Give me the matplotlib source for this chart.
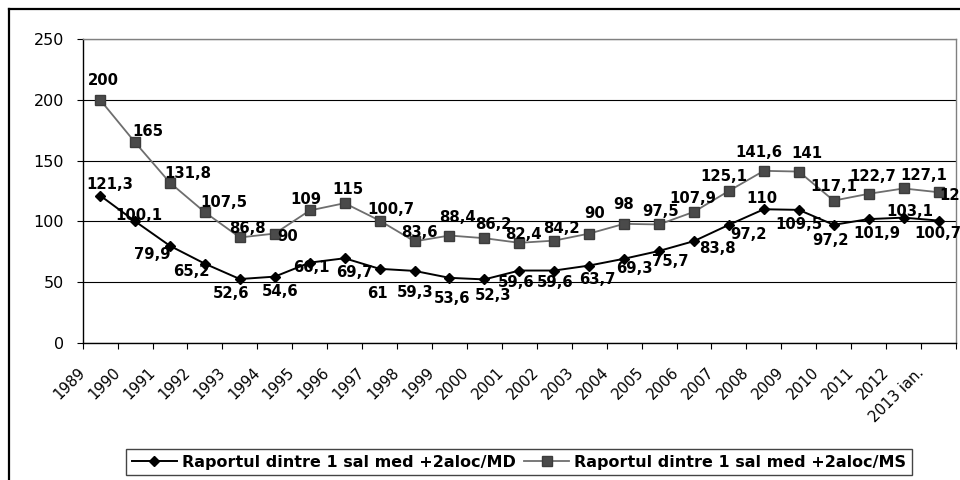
import matplotlib
matplotlib.use('Agg')
import matplotlib.pyplot as plt
from matplotlib.lines import Line2D

years = ['1989', '1990', '1991', '1992', '1993', '1994', '1995', '1996', '1997',
         '1998', '1999', '2000', '2001', '2002', '2003', '2004', '2005', '2006',
         '2007', '2008', '2009', '2010', '2011', '2012', '2013 ian.']

raport_md = [121.3, 100.1, 79.9, 65.2, 52.6, 54.6, 66.1, 69.7, 61, 59.3, 53.6,
             52.3, 59.6, 59.6, 63.7, 69.3, 75.7, 83.8, 97.2, 110, 109.5, 97.2,
             101.9, 103.1, 100.7]

raport_ms = [200, 165, 131.8, 107.5, 86.8, 90, 109, 115, 100.7, 83.6, 88.4,
             86.2, 82.4, 84.2, 90, 98, 97.5, 107.9, 125.1, 141.6, 141, 117.1,
             122.7, 127.1, 124]

label_md = 'Raportul dintre 1 sal med +2aloc/MD'
label_ms = 'Raportul dintre 1 sal med +2aloc/MS'

# where each data label sits relative to its point (pixels, y down)
md_label_shift = [(10, -13), (4, -7), (-17.5, 7), (-14, 6), (-9, 13), (5, 13.5),
                  (2, 3), (9.5, 12.5), (-2, 23.5), (1, 20), (2.5, 19), (9, 14.6),
                  (-3.5, 10), (1, 10), (8, 12), (10.7, 8.6), (11.7, 9), (23.5, 5.6),
                  (19.7, 8.5), (-1.5, -12.5), (0, 13.5), (-3, 14), (8, 12.6),
                  (6, -7.6), (-1, 11)]
ms_label_shift = [(3, -21), (13, -12), (17.5, -10.5), (18.5, -11.6), (8, -10),
                  (13, 1.5), (-4, -12.5), (3.7, -15.5), (11, -13), (4.7, -10),
                  (8, -20), (9, -15), (4, -10), (7.5, -14), (5, -22), (-0.6, -20.5),
                  (1.5, -14.4), (-1, -15), (-5, -16), (-4.6, -20), (8.3, -20),
                  (0, -16), (3.7, -19), (20.5, -14), (16, 2)]


def fmt(v):
    """Romanian style number: comma as decimal sign"""
    return f"{v:g}".replace('.', ',')


fig = plt.figure(figsize=(9.6, 4.8), dpi=100)
ax = fig.add_axes([0.0861, 0.2854, 0.9097, 0.6333])

x = list(range(len(years)))

ax.plot(x, raport_md, color='black', linewidth=1.4, marker='D', markersize=4.8,
        markerfacecolor='black', markeredgecolor='black', zorder=4, label=label_md)
ax.plot(x, raport_ms, color='#6e6e6e', linewidth=1.3, marker='s', markersize=6.6,
        markerfacecolor='#4a4a4a', markeredgecolor='#3c3c3c', zorder=3, label=label_ms)

# data labels
for xi, v, (dx, dy) in zip(x, raport_md, md_label_shift):
    ax.annotate(fmt(v), (xi, v), xytext=(dx, -dy - 1.5), textcoords='offset pixels',
                ha='center', va='center', fontsize=10.7, fontweight='bold', zorder=6)
for xi, v, (dx, dy) in zip(x, raport_ms, ms_label_shift):
    ax.annotate(fmt(v), (xi, v), xytext=(dx, -dy - 1.5), textcoords='offset pixels',
                ha='center', va='center', fontsize=10.7, fontweight='bold', zorder=6)

# axes
ax.set_xlim(-0.5, len(years) - 0.5)
ax.set_ylim(0, 250)
ax.set_yticks(range(0, 251, 50))
ax.tick_params(axis='y', labelsize=11.5, length=4.3, width=0.8, pad=9)
ax.yaxis.grid(True, color='black', linewidth=0.8)
ax.set_axisbelow(True)

# category boundaries carry the tick marks, labels hang off the left boundary
bounds = [i - 0.5 for i in range(len(years) + 1)]
ax.set_xticks(bounds)
ax.set_xticklabels(years + [''], rotation=45, ha='right', va='center',
                   rotation_mode='anchor', fontsize=10.7)
ax.tick_params(axis='x', length=4.3, width=0.8, pad=15)

for side in ['left', 'bottom']:
    ax.spines[side].set_color('black')
    ax.spines[side].set_linewidth(1.0)
for side in ['top', 'right']:
    ax.spines[side].set_color('#808080')
    ax.spines[side].set_linewidth(1.0)

ax.legend(loc='center', bbox_to_anchor=(0.5406, 0.0375), bbox_transform=fig.transFigure,
          ncol=2, fancybox=False, framealpha=1, edgecolor='#444444',
          prop={'size': 11.5, 'weight': 'bold'}, handlelength=2.85,
          handletextpad=0.3, columnspacing=0.5, borderpad=0.35)

# outer chart border (runs off the right and bottom of the picture)
fig.add_artist(Line2D([9 / 960, 1.05], [1 - 9 / 480, 1 - 9 / 480],
                      transform=fig.transFigure, color='black', linewidth=1.6))
fig.add_artist(Line2D([9 / 960, 9 / 960], [-0.05, 1 - 9 / 480],
                      transform=fig.transFigure, color='black', linewidth=1.6))

fig.savefig('out.png', dpi=100, facecolor='white')
